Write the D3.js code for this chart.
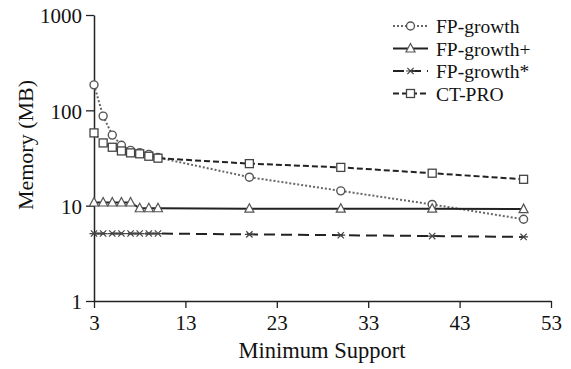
<!DOCTYPE html>
<html>
<head>
<meta charset="utf-8">
<script src="https://d3js.org/d3.v7.min.js"></script>
<style>
  body { margin: 0; background: #fff; }
</style>
</head>
<body>
<svg id="chart" width="571" height="369"></svg>
<script>
// data
var support = [3, 4, 5, 6, 7, 8, 9, 10, 20, 30, 40, 50];
var fpGrowth = [185, 87, 55, 43, 38, 36, 34.5, 32, 19.9, 14.3, 10.3, 7.2];
var fpGrowthPlus = [10.8, 10.8, 10.8, 10.8, 10.8, 9.4, 9.4, 9.4, 9.3, 9.3, 9.3, 9.2];
var fpGrowthStar = [5.1, 5.1, 5.1, 5.1, 5.1, 5.1, 5.1, 5.1, 5.0, 4.9, 4.8, 4.7];
var ctPro = [58, 45.5, 41, 37.5, 35.8, 35, 33, 31.5, 27.6, 25.2, 21.9, 18.9];
var xTicks = [3, 13, 23, 33, 43, 53];
var yTicks = [1, 10, 100, 1000];

var FONT = '"Liberation Serif", "Times New Roman", "DejaVu Serif", serif';

var series = [
  {name: 'FP-growth', values: fpGrowth, dash: '2,2', marker: 'circle', color: '#666'},
  {name: 'FP-growth+', values: fpGrowthPlus, dash: null, marker: 'triangle', color: '#222'},
  {name: 'FP-growth*', values: fpGrowthStar, dash: '11,6', marker: 'star', color: '#222'},
  {name: 'CT-PRO', values: ctPro, dash: '6,3', marker: 'square', color: '#222'}
];

var svg = d3.select('#chart');
var x = d3.scaleLinear().domain([3, 53]).range([94, 551]);
var y = d3.scaleLog().domain([1, 1000]).range([301, 15]);

function styleAxis(g) {
  g.attr('font-family', null);
  g.select('.domain').attr('stroke', '#222').attr('stroke-width', 1.5);
  g.selectAll('.tick line').attr('stroke', '#222').attr('stroke-width', 1.3);
  g.selectAll('.tick text').style('font-size', '21px').style('font-family', FONT).attr('fill', '#111');
}

// axes
svg.append('g')
  .attr('transform', 'translate(0,301)')
  .call(d3.axisBottom(x).tickValues(xTicks).tickSize(7).tickSizeOuter(0).tickFormat(d3.format('d')))
  .call(styleAxis)
  .call(function(g) { g.selectAll('.tick text').attr('y', 14); });

svg.append('g')
  .attr('transform', 'translate(94,0)')
  .call(d3.axisLeft(y).tickValues(yTicks).tickSize(8).tickSizeOuter(0).tickFormat(d3.format('d')))
  .call(styleAxis)
  .call(function(g) { g.selectAll('.tick text').attr('x', -12).attr('dy', '0.38em'); });

// axis titles
svg.append('text')
  .attr('transform', 'rotate(-90)')
  .attr('x', -145).attr('y', 33)
  .style('text-anchor', 'middle').style('font-size', '22px').style('font-family', FONT)
  .attr('fill', '#111')
  .text('Memory (MB)');

svg.append('text')
  .attr('x', 322).attr('y', 358)
  .style('text-anchor', 'middle').style('font-size', '22.5px').style('font-family', FONT)
  .attr('fill', '#111')
  .text('Minimum Support');

function drawMarker(g, type, cx, cy) {
  if (type == 'circle') {
    g.append('circle').attr('cx', cx).attr('cy', cy).attr('r', 4)
      .attr('fill', 'white').attr('stroke', '#555').attr('stroke-width', 1.4);
  } else if (type == 'square') {
    g.append('rect').attr('x', cx - 4).attr('y', cy - 4).attr('width', 8).attr('height', 8)
      .attr('fill', 'white').attr('stroke', '#444').attr('stroke-width', 1.3);
  } else if (type == 'triangle') {
    g.append('path').attr('d', 'M' + cx + ',' + (cy - 5) + 'L' + (cx + 4.5) + ',' + (cy + 3.5) + 'L' + (cx - 4.5) + ',' + (cy + 3.5) + 'Z')
      .attr('fill', 'white').attr('stroke', '#555').attr('stroke-width', 1.2);
  } else if (type == 'star') {
    var s = 4.5;
    g.append('path')
      .attr('d', 'M' + (cx - s) + ',' + cy + 'L' + (cx + s) + ',' + cy +
        'M' + (cx - s * 0.7) + ',' + (cy - s * 0.7) + 'L' + (cx + s * 0.7) + ',' + (cy + s * 0.7) +
        'M' + (cx - s * 0.7) + ',' + (cy + s * 0.7) + 'L' + (cx + s * 0.7) + ',' + (cy - s * 0.7))
      .attr('stroke', '#444').attr('stroke-width', 1.2);
  }
}

var line = d3.line()
  .x(function(d) { return x(d[0]); })
  .y(function(d) { return y(d[1]); });

series.forEach(function(s) {
  var pts = support.map(function(v, i) { return [v, s.values[i]]; });
  var g = svg.append('g');
  g.append('path')
    .datum(pts)
    .attr('d', line)
    .attr('fill', 'none')
    .attr('stroke', s.color)
    .attr('stroke-width', 2)
    .attr('stroke-dasharray', s.dash);
  pts.forEach(function(p) {
    drawMarker(g, s.marker, x(p[0]), y(p[1]));
  });
});

// legend
var legend = svg.append('g');
series.forEach(function(s, i) {
  var ly = 26 + i * 22.5;
  legend.append('line')
    .attr('x1', 393).attr('x2', 428).attr('y1', ly).attr('y2', ly)
    .attr('stroke', s.color).attr('stroke-width', 2)
    .attr('stroke-dasharray', s.dash);
  drawMarker(legend, s.marker, 410.5, ly);
  legend.append('text')
    .attr('x', 436).attr('y', ly + 7)
    .style('font-size', '19.5px').style('font-family', FONT)
    .attr('fill', '#111')
    .text(s.name);
});
</script>
</body>
</html>
